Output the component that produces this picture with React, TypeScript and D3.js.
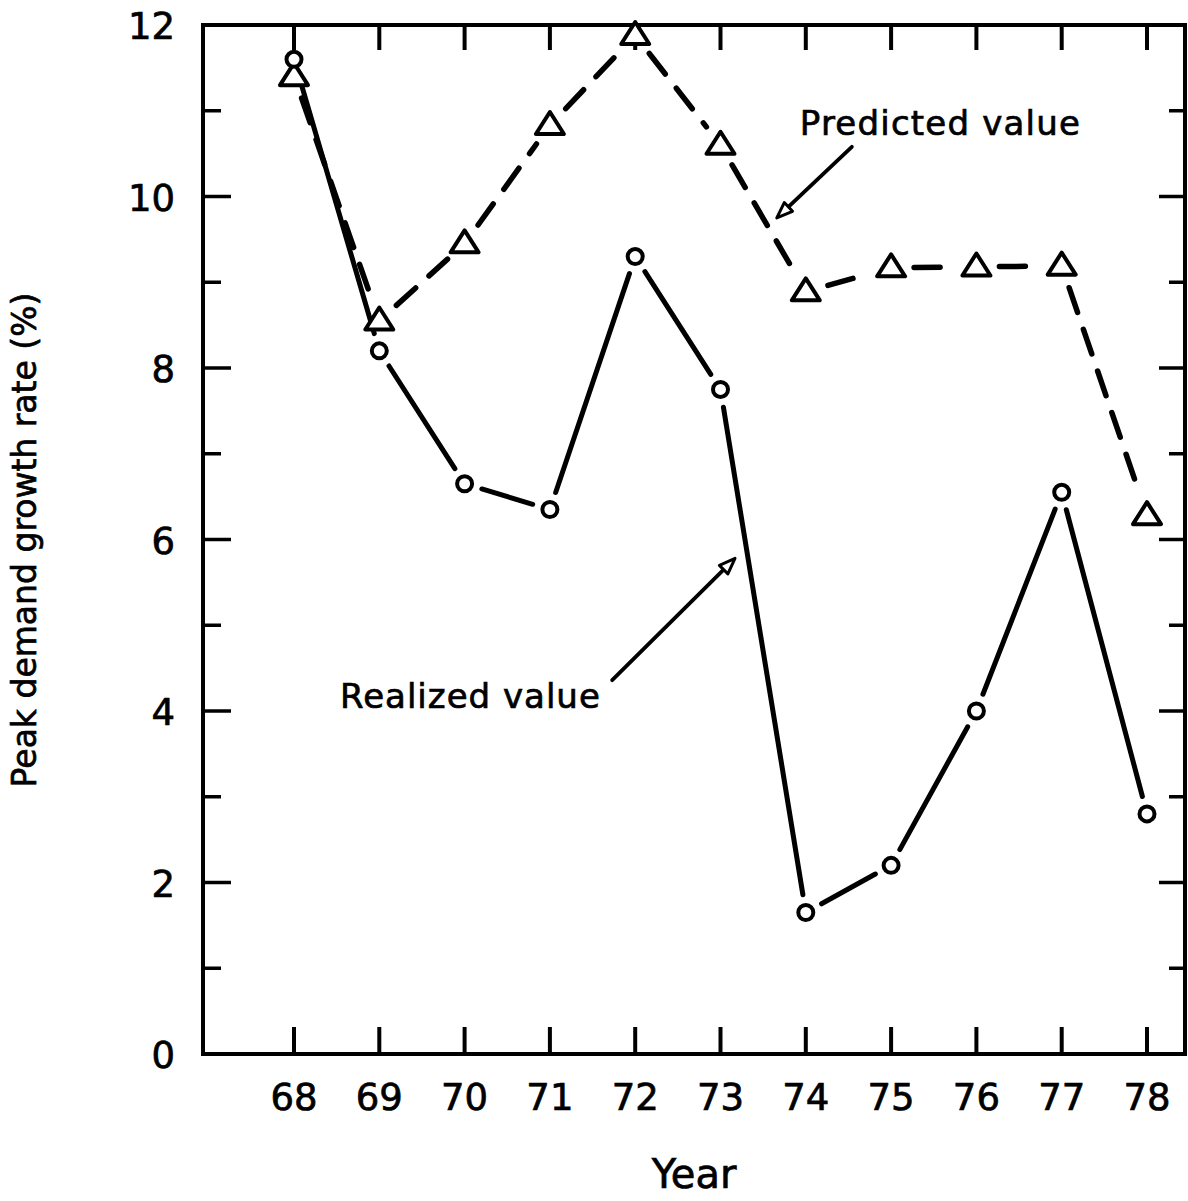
import React from "react";
import * as d3 from "d3";

const years = [68, 69, 70, 71, 72, 73, 74, 75, 76, 77, 78];
const realized = [11.6, 8.2, 6.65, 6.35, 9.3, 7.75, 1.65, 2.2, 4.0, 6.55, 2.8];
const predicted = [11.4, 8.55, 9.45, 10.83, 11.88, 10.6, 8.89, 9.17, 9.18, 9.19, 6.28];
const yTicks = [0, 2, 4, 6, 8, 10, 12];
const yMinorTicks = [1, 3, 5, 7, 9, 11];
const xLabel = "Year";
const yLabel = "Peak demand growth rate (%)";
const predictedLabel = "Predicted value";
const realizedLabel = "Realized value";
// annotation anchors in data units: [year, value]
const predictedText = [73.93, 10.72];
const predictedArrowFrom = [74.54, 10.58];
const predictedArrowTo = [73.66, 9.75];
const realizedText = [68.54, 4.03];
const realizedArrowFrom = [71.73, 4.36];
const realizedArrowTo = [73.17, 5.78];

const W = 1188;
const H = 1201;
const frame = { left: 203, right: 1185, top: 25, bottom: 1054 };
const FONT = "'DejaVu Sans', 'Liberation Sans', sans-serif";

const x = d3.scaleLinear().domain([68, 78]).range([294, 1147]);
const y = d3.scaleLinear().domain([0, 12]).range([frame.bottom, frame.top]);

function gappedSegments(pts: [number, number][], gap: number) {
  const segs: { x1: number; y1: number; x2: number; y2: number }[] = [];
  for (let i = 0; i < pts.length - 1; i++) {
    const [ax, ay] = pts[i];
    const [bx, by] = pts[i + 1];
    const dx = bx - ax, dy = by - ay;
    const len = Math.hypot(dx, dy);
    if (len <= gap * 2) continue;
    const ux = dx / len, uy = dy / len;
    segs.push({ x1: ax + ux * gap, y1: ay + uy * gap, x2: bx - ux * gap, y2: by - uy * gap });
  }
  return segs;
}

function Arrow({ from, to }: { from: number[]; to: number[] }) {
  const x1 = x(from[0]), y1 = y(from[1]);
  const x2 = x(to[0]), y2 = y(to[1]);
  const ang = Math.atan2(y2 - y1, x2 - x1);
  const L = 16, Wd = 6;
  const bx = x2 - Math.cos(ang) * L, by = y2 - Math.sin(ang) * L;
  const px = -Math.sin(ang) * Wd, py = Math.cos(ang) * Wd;
  const head = `M${x2},${y2} L${bx + px},${by + py} L${bx - px},${by - py} Z`;
  return (
    <g>
      <line x1={x1} y1={y1} x2={bx} y2={by} stroke="#000" strokeWidth={3.8} strokeLinecap="round" />
      <path d={head} fill="#fff" stroke="#000" strokeWidth={3} strokeLinejoin="round" />
    </g>
  );
}

const textStyle = { fontFamily: FONT, fill: "#000", stroke: "#000", strokeWidth: 0.7 };

export default function App() {
  const rPts: [number, number][] = years.map((yr, i) => [x(yr), y(realized[i])]);
  const pPts: [number, number][] = years.map((yr, i) => [x(yr), y(predicted[i])]);
  const rSegs = gappedSegments(rPts, 18);
  const pSegs = gappedSegments(pPts, 23);
  const tri = (cx: number, cy: number) => {
    const s = 14;
    return `M${cx},${cy - s * 0.95} L${cx + s},${cy + s * 0.62} L${cx - s},${cy + s * 0.62} Z`;
  };
  return (
    <svg width={W} height={H} style={{ position: "absolute", left: 0, top: 0, background: "#fff" }}>
      <rect x={0} y={0} width={W} height={H} fill="#fff" />
      {/* frame */}
      <rect x={frame.left} y={frame.top} width={frame.right - frame.left} height={frame.bottom - frame.top}
        fill="none" stroke="#000" strokeWidth={4} />
      {/* x ticks bottom and top */}
      {years.map((yr) => (
        <g key={"xt" + yr}>
          <line x1={x(yr)} x2={x(yr)} y1={frame.bottom} y2={frame.bottom - 27} stroke="#000" strokeWidth={4} />
          <line x1={x(yr)} x2={x(yr)} y1={frame.top} y2={frame.top + 25} stroke="#000" strokeWidth={4} />
          <text x={x(yr)} y={1110} textAnchor="middle" fontSize={37} style={textStyle}>{yr}</text>
        </g>
      ))}
      {/* y ticks */}
      {yTicks.map((v) => (
        <g key={"yt" + v}>
          <line x1={frame.left} x2={frame.left + 28} y1={y(v)} y2={y(v)} stroke="#000" strokeWidth={3.5} />
          <line x1={frame.right} x2={frame.right - 26} y1={y(v)} y2={y(v)} stroke="#000" strokeWidth={3.5} />
          <text x={175} y={y(v) + 14} textAnchor="end" fontSize={37} style={textStyle}>{v}</text>
        </g>
      ))}
      {yMinorTicks.map((v) => (
        <g key={"ym" + v}>
          <line x1={frame.left} x2={frame.left + 18} y1={y(v)} y2={y(v)} stroke="#000" strokeWidth={3.5} />
          <line x1={frame.right} x2={frame.right - 16} y1={y(v)} y2={y(v)} stroke="#000" strokeWidth={3.5} />
        </g>
      ))}
      {/* predicted dashed line */}
      {pSegs.map((s, i) => (
        <line key={"ps" + i} {...s} stroke="#000" strokeWidth={5.5} strokeDasharray="26 18" strokeLinecap="round" />
      ))}
      {/* realized solid line */}
      {rSegs.map((s, i) => (
        <line key={"rs" + i} {...s} stroke="#000" strokeWidth={5} strokeLinecap="round" />
      ))}
      {/* markers */}
      {pPts.map(([cx, cy], i) => (
        <path key={"pm" + i} d={tri(cx, cy)} fill="#fff" stroke="#000" strokeWidth={4} strokeLinejoin="round" />
      ))}
      {rPts.map(([cx, cy], i) => (
        <circle key={"rm" + i} cx={cx} cy={cy} r={7.5} fill="#fff" stroke="#000" strokeWidth={4} />
      ))}
      {/* annotations */}
      <text x={x(predictedText[0])} y={y(predictedText[1])} fontSize={34} letterSpacing={1.2} style={textStyle}>
        {predictedLabel}
      </text>
      <Arrow from={predictedArrowFrom} to={predictedArrowTo} />
      <text x={x(realizedText[0])} y={y(realizedText[1])} fontSize={34} letterSpacing={1} style={textStyle}>
        {realizedLabel}
      </text>
      <Arrow from={realizedArrowFrom} to={realizedArrowTo} />
      {/* axis labels */}
      <text x={694} y={1188} textAnchor="middle" fontSize={40} style={textStyle}>{xLabel}</text>
      <text transform="translate(36,540) rotate(-90)" textAnchor="middle" fontSize={33} style={textStyle}>
        {yLabel}
      </text>
    </svg>
  );
}
